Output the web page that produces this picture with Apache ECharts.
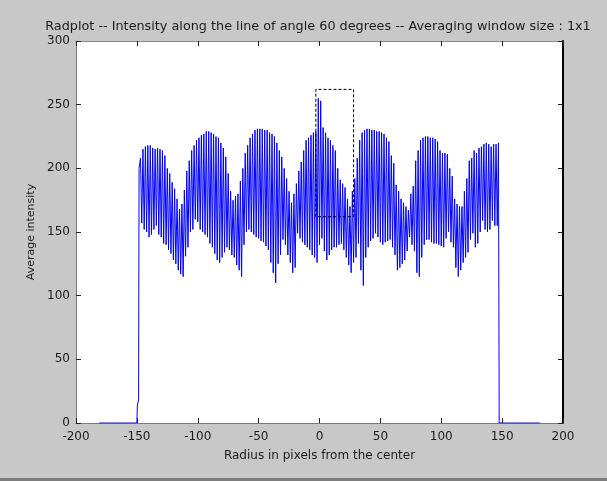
<!DOCTYPE html>
<html>
<head>
<meta charset="utf-8">
<script src="https://cdn.jsdelivr.net/npm/echarts@6/dist/echarts.min.js"></script>
<style>
html,body{margin:0;padding:0;background:#c8c8c8;}
#chart{width:607px;height:481px;}
</style>
</head>
<body>
<div id="chart"></div>
<script>
// ---- data ----
const titleText = 'Radplot -- Intensity along the line of angle 60 degrees -- Averaging window size : 1x1';
const xName = 'Radius in pixels from the center';
const yName = 'Average intensity';
const xTicks = [-200, -150, -100, -50, 0, 50, 100, 150, 200];
const yTicks = [0, 50, 100, 150, 200, 250, 300];

// flat zero level and small step before the profile starts
const leadIn = [[-181, 0], [-150, 0], [-149.6, 14], [-148.6, 18], [-148.2, 200]];
// drop back to zero after the profile
const tailOut = [[147.6, 0], [181, 0]];

// profile samples, one per pixel of radius, starting at radiusStart
const radiusStart = -147;
const intensity = [
  208,157,215,152, 217,150,218,146, 218,148,216,152, 215,155,216,148,
  215,146,214,141, 210,140,200,136, 196,133,189,128, 184,125,176,120,
  168,117,172,115, 183,131,198,138, 206,150,214,152, 218,160,222,158,
  224,152,226,150, 227,148,229,146, 229,141,228,138, 227,133,225,128,
  224,126,220,130, 216,134,209,138, 196,136,182,132, 175,130,178,124,
  180,120,190,115, 200,140,212,150, 218,152,224,150, 227,148,230,146,
  231,145,231,143, 231,142,230,139, 230,136,228,126, 227,118,225,110,
  220,125,214,132, 209,144,200,140, 192,132,182,126, 173,118,180,122,
  188,149,198,145, 205,142,214,140, 222,138,224,136, 226,132,228,130,
  229,126,255,140, 253,145,232,135, 228,128,224,132, 222,136,218,138,
  214,138,200,140, 191,141,188,136, 185,130,176,124, 170,118,182,126,
  192,130,208,141, 222,120,228,108, 230,130,231,138, 231,143,230,145,
  230,149,229,146, 229,142,228,140, 227,142,224,143, 221,144,210,138,
  204,132,187,120, 182,122,176,125, 173,128,170,135, 167,146,180,140,
  186,135,206,118, 214,115,222,130, 224,140,225,144, 225,144,224,142,
  224,141,223,141, 221,140,214,139, 212,138,212,145, 211,150,200,142,
  194,138,176,122, 172,115,170,120, 170,126,182,130, 192,134,206,144,
  208,149,214,138, 212,141,216,150, 217,159,219,152, 220,150,219,152,
  217,159,219,155, 219,155,220
];

// dashed selection rectangle
const boxX = [-3, 28];
const boxY = [162, 262];

// ---- build chart ----
const profile = leadIn.slice();
for (let i = 0; i < intensity.length; i++) {
  profile.push([radiusStart + i, intensity[i]]);
}
tailOut.forEach(p => profile.push(p));

const boxPath = [
  [boxX[0], boxY[0]], [boxX[0], boxY[1]], [boxX[1], boxY[1]],
  [boxX[1], boxY[0]], [boxX[0], boxY[0]]
];

const FONT = 'DejaVu Sans';
const TXT = '#1c1c1c';

const chart = echarts.init(document.getElementById('chart'), null, {renderer: 'canvas'});
chart.setOption({
  backgroundColor: '#c8c8c8',
  animation: false,
  title: {
    text: titleText,
    left: 313,
    top: 15,
    textAlign: 'center',
    textStyle: {fontFamily: FONT, fontSize: 12.8, fontWeight: 'normal', color: TXT}
  },
  grid: {left: 76, right: 44, top: 41, bottom: 58, show: true, backgroundColor: '#ffffff', borderWidth: 0},
  xAxis: [{
    type: 'value', min: xTicks[0], max: xTicks[xTicks.length - 1], interval: 50,
    position: 'bottom',
    name: xName, nameLocation: 'middle', nameGap: 27,
    nameTextStyle: {fontFamily: FONT, fontSize: 12, color: TXT},
    axisLine: {show: true, onZero: false, lineStyle: {color: '#7a7a7a', width: 1}},
    axisTick: {show: true, inside: true, length: 5, lineStyle: {color: '#222'}},
    axisLabel: {fontFamily: FONT, fontSize: 12, color: TXT, margin: 8},
    splitLine: {show: false}
  }, {
    type: 'value', min: xTicks[0], max: xTicks[xTicks.length - 1], interval: 50,
    position: 'top',
    axisLine: {show: true, onZero: false, lineStyle: {color: '#8a8a8a', width: 1}},
    axisTick: {show: true, inside: true, length: 5, lineStyle: {color: '#222'}},
    axisLabel: {show: false},
    splitLine: {show: false}
  }],
  yAxis: [{
    type: 'value', min: yTicks[0], max: yTicks[yTicks.length - 1], interval: 50,
    position: 'left',
    name: yName, nameLocation: 'middle', nameGap: 38,
    nameTextStyle: {fontFamily: FONT, fontSize: 11, color: TXT},
    axisLine: {show: true, onZero: false, lineStyle: {color: '#7a7a7a', width: 1}},
    axisTick: {show: true, inside: true, length: 5, lineStyle: {color: '#222'}},
    axisLabel: {fontFamily: FONT, fontSize: 12, color: TXT, margin: 6},
    splitLine: {show: false}
  }, {
    type: 'value', min: yTicks[0], max: yTicks[yTicks.length - 1], interval: 50,
    position: 'right',
    axisLine: {show: true, onZero: false, lineStyle: {color: '#000000', width: 2}},
    axisTick: {show: true, inside: true, length: 5, lineStyle: {color: '#222'}},
    axisLabel: {show: false},
    splitLine: {show: false}
  }],
  series: [{
    type: 'line',
    data: profile,
    xAxisIndex: 0, yAxisIndex: 0,
    showSymbol: false,
    symbol: 'none',
    lineStyle: {color: '#0000ff', width: 1},
    z: 2
  }, {
    type: 'line',
    data: boxPath,
    xAxisIndex: 0, yAxisIndex: 0,
    showSymbol: false,
    symbol: 'none',
    lineStyle: {color: '#000000', width: 1, type: [3, 2]},
    z: 3
  }],
  graphic: [{
    type: 'rect',
    shape: {x: 0, y: 478, width: 607, height: 3},
    style: {fill: '#7c7c7c'},
    silent: true
  }]
});
</script>
</body>
</html>
